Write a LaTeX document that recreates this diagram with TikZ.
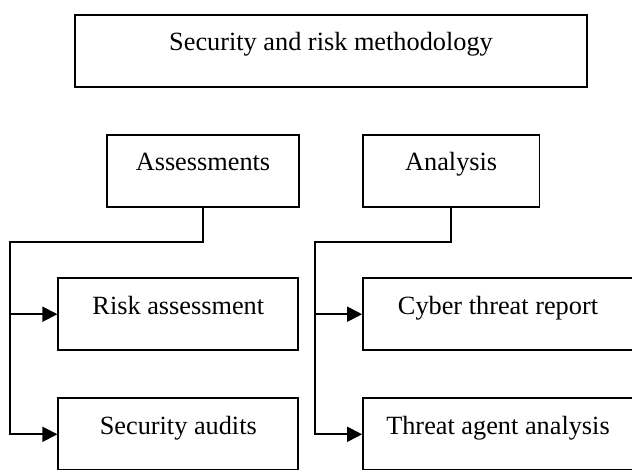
\documentclass[tikz,border=0pt]{standalone}
\usepackage{fontspec}
\setmainfont{Liberation Serif}
\usetikzlibrary{arrows.meta, positioning}

\begin{document}
\begin{tikzpicture}[
      x=1pt, y=-1pt,
      box/.style={rectangle, draw=black, line width=1.8pt, fill=white,
                  minimum height=72pt, inner sep=0pt, align=center,
                  text height=10pt, text depth=10pt,
                  font=\fontsize{26.3}{30}\selectfont},
      arr/.style={-{Triangle[length=15pt, width=15pt]}, line width=1.8pt, black}
    ]
      \useasboundingbox (0,0) rectangle (632,470);
      \node[box, minimum width=512pt] (method) at (331,50.7) {Security and risk methodology};
      \node[box, minimum width=192pt] (assess) at (203,171) {Assessments};
      \node[box, minimum width=176.5pt] (analysis) at (451.2,171) {Analysis};
      \node[box, minimum width=240pt] (risk) at (178.3,314.2) {Risk assessment};
      \node[box, minimum width=240pt, below=46.3pt of risk] (audits) {Security audits};
      \node[box, minimum width=270pt, right=62.9pt of risk] (cyber) {Cyber threat report};
      \node[box, minimum width=270pt, below=46.3pt of cyber] (threat) {Threat agent analysis};
      % branch buses
      \coordinate (abus) at (10,241.7);
      \coordinate (nbus) at (315,241.7);
      \draw[arr] (assess.south) |- (abus) |- (audits.west);
      \draw[arr] (abus |- risk.west) -- (risk.west);
      \draw[arr] (analysis.south) |- (nbus) |- (threat.west);
      \draw[arr] (nbus |- cyber.west) -- (cyber.west);
    \end{tikzpicture}
\end{document}
